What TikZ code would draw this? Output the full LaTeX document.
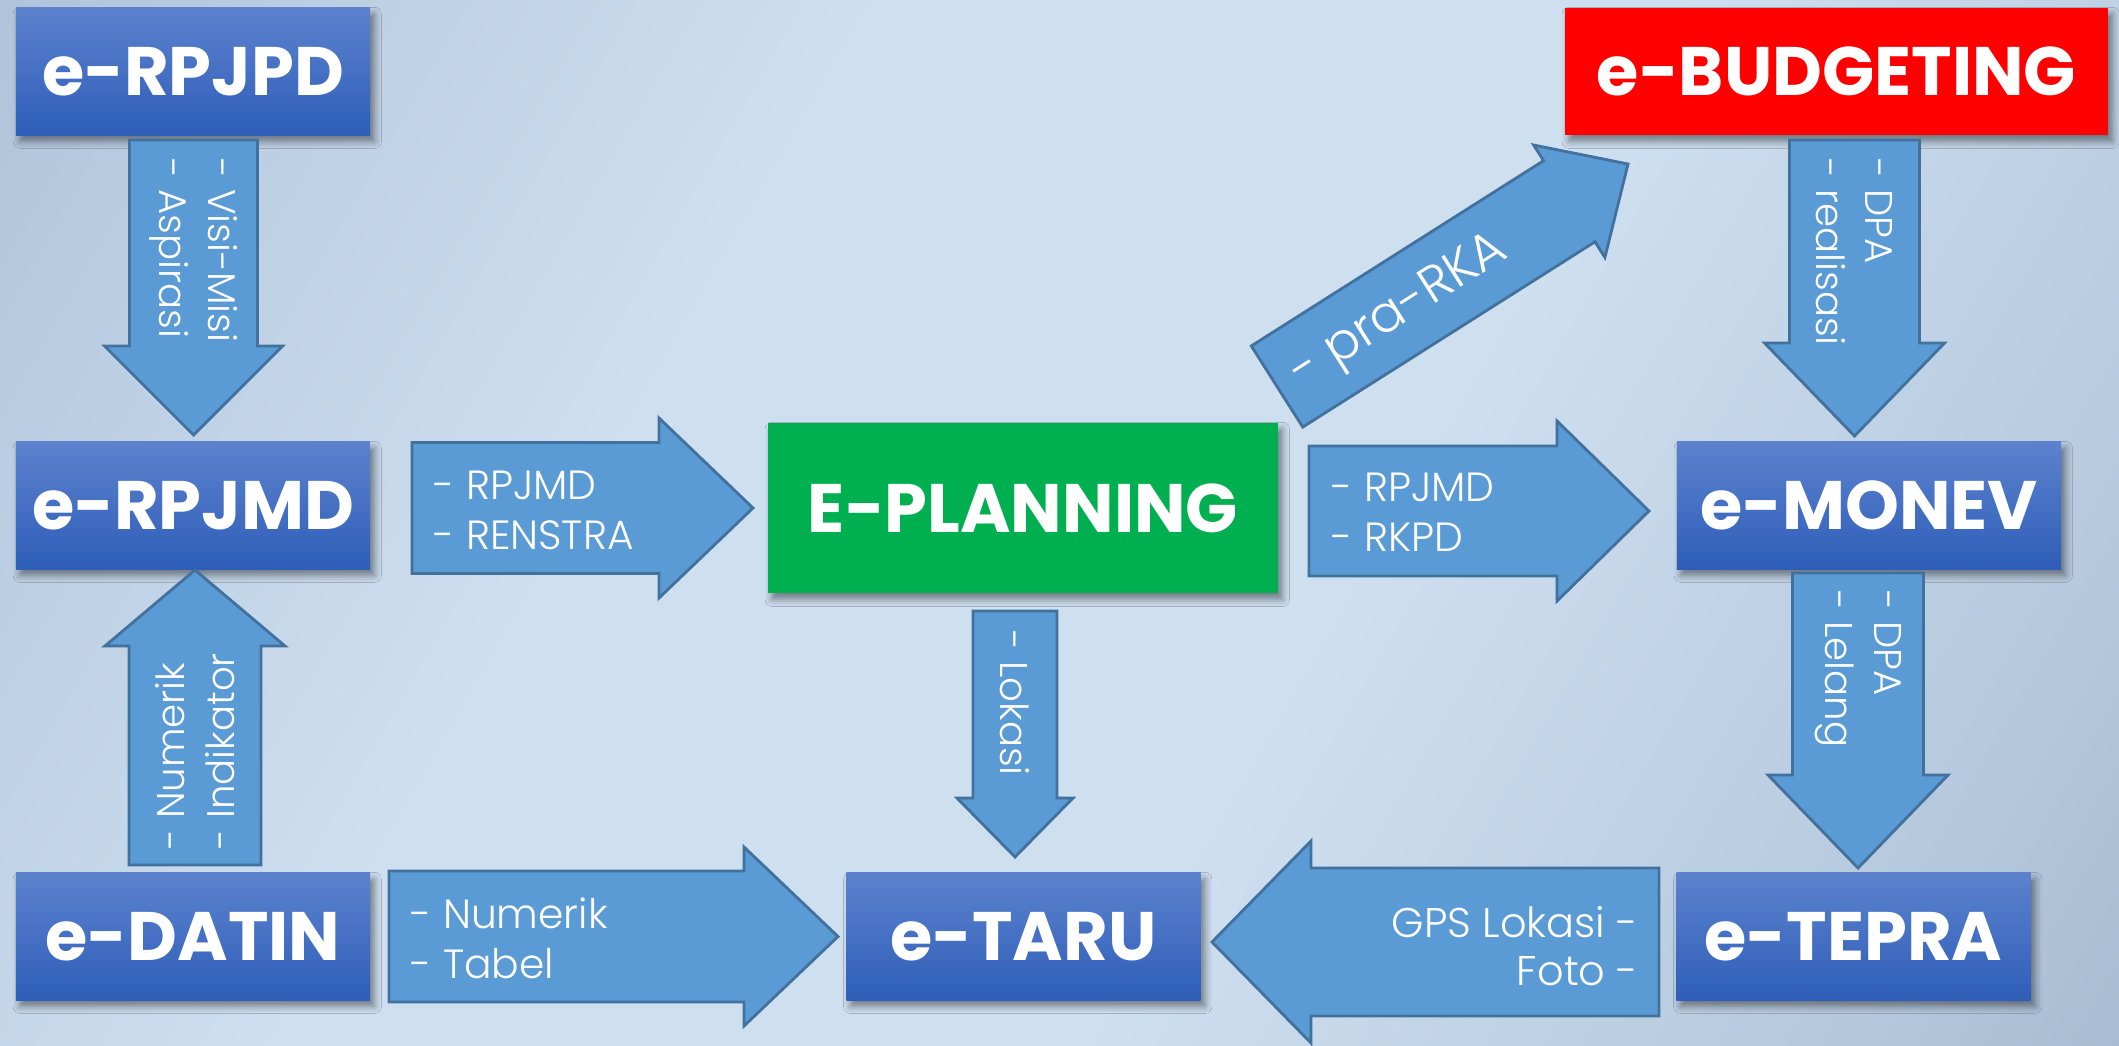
\documentclass[tikz,border=0pt]{standalone}
\usepackage{fontspec}
\setmainfont{Poppins}
\newfontfamily\lightfont{Poppins Light}
\usetikzlibrary{positioning,calc,shadows.blur}

\definecolor{arrowblue}{HTML}{5B9BD5}
\definecolor{arrowline}{HTML}{41719C}
\definecolor{boxtop}{HTML}{5C82CE}
\definecolor{boxbot}{HTML}{2E5EB8}
\definecolor{planninggreen}{HTML}{00B050}
\definecolor{budgetred}{HTML}{FF0000}
\definecolor{bgdark}{HTML}{96ACC7}
\definecolor{bgupper}{HTML}{BACCE1}
\definecolor{bglight}{HTML}{CEDFF0}
\definecolor{bgmid}{HTML}{B4C7DC}
\definecolor{bgcorner}{HTML}{899EBA}

\pgfdeclareverticalshading{bgfade}{100bp}{color(0bp)=(bgcorner); color(22bp)=(bgmid);
  color(42bp)=(bglight); color(62bp)=(bglight); color(78bp)=(bgupper); color(100bp)=(bgdark)}

\tikzset{
  sysbox/.style={minimum width=3.54cm, minimum height=1.27cm, inner sep=0pt, text=white,
    font=\bfseries\fontsize{19.5}{22}\selectfont,
    blur shadow={shadow xshift=1.2pt, shadow yshift=-1.8pt, shadow blur radius=2pt, shadow opacity=45}},
  bluebox/.style={sysbox, top color=boxtop, bottom color=boxbot},
  arrowbody/.style={fill=arrowblue, draw=arrowline, line width=0.8pt, line join=miter},
  arrowtext/.style={text=white, align=left, inner sep=0pt, font=\lightfont\fontsize{11.6}{14.2}\selectfont},
  vtext/.style={arrowtext, font=\lightfont\fontsize{11}{14}\selectfont},
}

% block arrow: name, tail, tip, half shaft, half head, head length
\newcommand{\blockarrow}[6]{%
  \coordinate (#1h) at ($(#3)!#6!(#2)$);
  \draw[arrowbody] ($(#2)!#4!90:(#3)$) -- ($(#1h)!#4!90:(#3)$) -- ($(#1h)!#5!90:(#3)$) -- (#3)
    -- ($(#1h)!#5!-90:(#3)$) -- ($(#1h)!#4!-90:(#3)$) -- ($(#2)!#4!-90:(#3)$) -- cycle;
}

\begin{document}
\begin{tikzpicture}[x=0.01cm, y=-0.01cm]
  \useasboundingbox (0,0) rectangle (2119,1045);
  \shade[shading=bgfade, shading angle=60] (0,0) rectangle (2119,1045);

  % systems
  \node[bluebox] (rpjpd) at (193,71.5) {e-RPJPD};
  \node[bluebox] (rpjmd) at (193,505.5) {e-RPJMD};
  \node[bluebox] (datin) at (193,936.5) {e-DATIN};
  \node[sysbox, fill=budgetred, minimum width=5.43cm] (budgeting) at (1836.5,71.5) {e-BUDGETING};
  \node[bluebox, minimum width=3.84cm] (monev) at (1869,505.5) {e-MONEV};
  \node[bluebox] (tepra) at (1853.5,936.5) {e-TEPRA};
  \node[sysbox, fill=planninggreen, minimum width=5.1cm, minimum height=1.7cm] (planning) at (1023,508) {E-PLANNING};
  \node[bluebox] (taru) at (1023.5,936.5) {e-TARU};

  % arrow ends
  \coordinate (a1s) at (193.5,140);  \coordinate (a1e) at (193.5,435);
  \coordinate (a2s) at (195,865);    \coordinate (a2e) at (195,570);
  \coordinate (a3s) at (412,508);    \coordinate (a3e) at (753,508);
  \coordinate (a4s) at (1309,511);   \coordinate (a4e) at (1649,511);
  \coordinate (a5s) at (1277,386.5); \coordinate (a5e) at (1628,164);
  \coordinate (a6s) at (1854.5,140); \coordinate (a6e) at (1854.5,436);
  \coordinate (a7s) at (1858,573);   \coordinate (a7e) at (1858,868);
  \coordinate (a8s) at (1015,611);   \coordinate (a8e) at (1015,857);
  \coordinate (a9s) at (389,936.5);  \coordinate (a9e) at (838,936.5);
  \coordinate (a10s) at (1659,942);  \coordinate (a10e) at (1212,942);

  \blockarrow{a1}{a1s}{a1e}{0.64cm}{0.89cm}{0.89cm}
  \blockarrow{a2}{a2s}{a2e}{0.66cm}{0.90cm}{0.76cm}
  \blockarrow{a3}{a3s}{a3e}{0.655cm}{0.90cm}{0.94cm}
  \blockarrow{a4}{a4s}{a4e}{0.65cm}{0.90cm}{0.92cm}
  \blockarrow{a5}{a5s}{a5e}{0.48cm}{0.665cm}{0.695cm}
  \blockarrow{a6}{a6s}{a6e}{0.65cm}{0.90cm}{0.93cm}
  \blockarrow{a7}{a7s}{a7e}{0.655cm}{0.90cm}{0.93cm}
  \blockarrow{a8}{a8s}{a8e}{0.42cm}{0.58cm}{0.59cm}
  \blockarrow{a9}{a9s}{a9e}{0.655cm}{0.895cm}{0.94cm}
  \blockarrow{a10}{a10s}{a10e}{0.74cm}{1.01cm}{0.99cm}

  % labels
  \node[vtext, rotate=-90, anchor=west] (l1) at (193.5,158) {- Visi-Misi\\- Aspirasi};
  \node[vtext, rotate=90, anchor=west] (l2) at (195,850) {- Numerik\\- Indikator};
  \node[arrowtext, anchor=west] (l3) at (433,510) {- RPJMD\\- RENSTRA};
  \node[arrowtext, anchor=west] (l4) at (1331,512) {- RPJMD\\- RKPD};
  \node[arrowtext, rotate=32.4, font=\lightfont\fontsize{14.5}{17}\selectfont] (l5) at (1400,313) {- pra-RKA};
  \node[vtext, rotate=-90, anchor=west] (l6) at (1854.5,158) {- DPA\\- realisasi};
  \node[vtext, rotate=-90, anchor=west] (l7) at (1858,590) {- DPA\\- Lelang};
  \node[vtext, rotate=-90, anchor=west] (l8) at (1015,630) {- Lokasi};
  \node[arrowtext, anchor=west] (l9) at (410,938) {- Numerik\\- Tabel};
  \node[arrowtext, align=right, anchor=east, font=\lightfont\fontsize{11.8}{13.4}\selectfont] (l10) at (1639,946) {GPS Lokasi -\\Foto -};
\end{tikzpicture}
\end{document}
